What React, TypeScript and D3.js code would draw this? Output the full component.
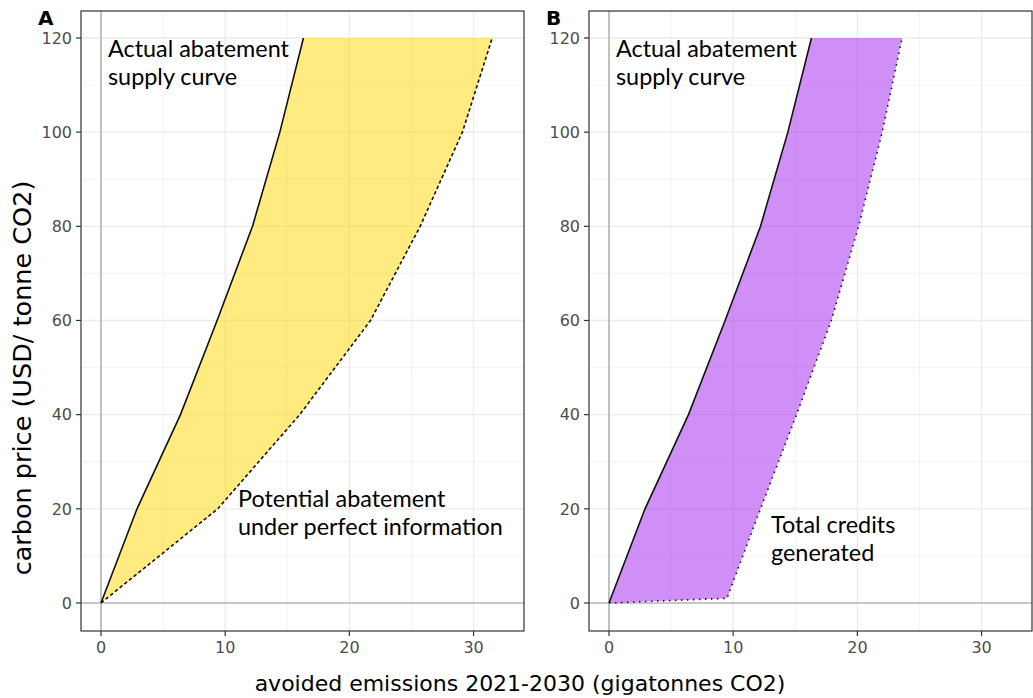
import React from "react";
import * as d3 from "d3";

// ---- data ----
const priceLevels = [0, 20, 40, 60, 80, 100, 120];
const actualAbatement = [0, 2.9, 6.4, 9.35, 12.2, 14.4, 16.3];
const potentialAbatement = [0, 9.4, 16.0, 21.7, 25.7, 29.1, 31.5];
const creditPriceLevels = [0, 1, 20, 40, 60, 80, 100, 120];
const totalCredits = [0, 9.5, 12.2, 15.1, 17.9, 20.1, 22.0, 23.6];

const xTicks = [0, 10, 20, 30];
const xMinorTicks = [5, 15, 25];
const yTicks = [0, 20, 40, 60, 80, 100, 120];
const yMinorTicks = [10, 30, 50, 70, 90, 110];

const panelLabels = ["A", "B"];
const topLabel = ["Actual abatement", "supply curve"];
const potentialLabel = ["Potential abatement", "under perfect information"];
const creditsLabel = ["Total credits", "generated"];

const W = 1033;
const H = 698;
const PANEL_W = 443;
const TOP = 11;
const BOTTOM = 631;
const X_DOMAIN: [number, number] = [-1.61, 34.06];
const Y_DOMAIN: [number, number] = [-5.95, 125.73];

const tickFont = "'DejaVu Sans', sans-serif";
const noteFont = "Lato, 'Open Sans', sans-serif";

type PanelProps = {
  label: string;
  left: number;
  fill: string;
  outerX: number[];
  outerY: number[];
  dash: string;
  note: string[];
  noteX: number;
  noteY: number;
};

function Panel({ label, left, fill, outerX, outerY, dash, note, noteX, noteY }: PanelProps) {
  const x = d3.scaleLinear().domain(X_DOMAIN).range([left, left + PANEL_W]);
  const y = d3.scaleLinear().domain(Y_DOMAIN).range([BOTTOM, TOP]);

  const actualPts: [number, number][] = priceLevels.map((p, i) => [x(actualAbatement[i]), y(p)]);
  const outerPts: [number, number][] = outerY.map((p, i) => [x(outerX[i]), y(p)]);
  const line = d3.line();
  const polygon = line([...actualPts, ...outerPts.slice().reverse()]) + "Z";

  return (
    <g>
      <rect x={left} y={TOP} width={PANEL_W} height={BOTTOM - TOP} fill="#fff" />
      {xMinorTicks.map((t) => (
        <line key={"xm" + t} x1={x(t)} x2={x(t)} y1={TOP} y2={BOTTOM} stroke="#f0f0f0" strokeWidth={0.8} />
      ))}
      {yMinorTicks.map((t) => (
        <line key={"ym" + t} x1={left} x2={left + PANEL_W} y1={y(t)} y2={y(t)} stroke="#f0f0f0" strokeWidth={0.8} />
      ))}
      {xTicks.map((t) => (
        <line key={"xg" + t} x1={x(t)} x2={x(t)} y1={TOP} y2={BOTTOM} stroke="#ebebeb" strokeWidth={1.3} />
      ))}
      {yTicks.map((t) => (
        <line key={"yg" + t} x1={left} x2={left + PANEL_W} y1={y(t)} y2={y(t)} stroke="#ebebeb" strokeWidth={1.3} />
      ))}
      {/* zero reference lines */}
      <line x1={x(0)} x2={x(0)} y1={TOP} y2={BOTTOM} stroke="#b8b8b8" strokeWidth={1.7} />
      <line x1={left} x2={left + PANEL_W} y1={y(0)} y2={y(0)} stroke="#b8b8b8" strokeWidth={1.7} />
      {/* ribbon */}
      <path d={polygon} fill={fill} fillOpacity={0.5} stroke="none" />
      <path d={line(outerPts) || ""} fill="none" stroke="#111" strokeWidth={1.6} strokeDasharray={dash} />
      <path d={line(actualPts) || ""} fill="none" stroke="#111" strokeWidth={1.6} />
      {/* border */}
      <rect x={left} y={TOP} width={PANEL_W} height={BOTTOM - TOP} fill="none" stroke="#333" strokeWidth={1.2} />
      {/* y axis */}
      {yTicks.map((t) => (
        <g key={"yt" + t}>
          <line x1={left - 5} x2={left} y1={y(t)} y2={y(t)} stroke="#333" strokeWidth={1.2} />
          <text x={left - 9} y={y(t)} dy="0.36em" textAnchor="end" fontFamily={tickFont} fontSize={16} fill="#4d4d4d">
            {t}
          </text>
        </g>
      ))}
      {/* x axis */}
      {xTicks.map((t) => (
        <g key={"xt" + t}>
          <line x1={x(t)} x2={x(t)} y1={BOTTOM} y2={BOTTOM + 5} stroke="#333" strokeWidth={1.2} />
          <text x={x(t)} y={BOTTOM + 22} textAnchor="middle" fontFamily={tickFont} fontSize={16} fill="#4d4d4d">
            {t}
          </text>
        </g>
      ))}
      {/* panel tag */}
      <text x={left - 43} y={25} fontFamily={tickFont} fontWeight="bold" fontSize={20} fill="#000">
        {label}
      </text>
      {/* annotations */}
      {topLabel.map((s, i) => (
        <text key={"tl" + i} x={x(0) + 7} y={57 + i * 28} fontFamily={noteFont} fontSize={23.4} fill="#000">
          {s}
        </text>
      ))}
      {note.map((s, i) => (
        <text key={"nt" + i} x={noteX} y={noteY + i * 28} fontFamily={noteFont} fontSize={23.4} fill="#000">
          {s}
        </text>
      ))}
    </g>
  );
}

export default function App() {
  return (
    <svg
      width={W}
      height={H}
      viewBox={`0 0 ${W} ${H}`}
      style={{ position: "absolute", left: 0, top: 0, background: "#fff" }}
    >
      <rect x={0} y={0} width={W} height={H} fill="#fff" />
      <Panel
        label={panelLabels[0]}
        left={81}
        fill="#FFD700"
        outerX={potentialAbatement}
        outerY={priceLevels}
        dash="3.5,2.5"
        note={potentialLabel}
        noteX={238}
        noteY={507}
      />
      <Panel
        label={panelLabels[1]}
        left={589}
        fill="#A020F0"
        outerX={totalCredits}
        outerY={creditPriceLevels}
        dash="1.5,4.5"
        note={creditsLabel}
        noteX={771}
        noteY={533}
      />
      <text
        transform={`translate(31,378) rotate(-90)`}
        textAnchor="middle"
        fontFamily={tickFont}
        fontSize={25.5}
        fill="#000"
      >
        carbon price (USD/ tonne CO2)
      </text>
      <text x={520} y={691} textAnchor="middle" fontFamily={tickFont} fontSize={22} fill="#000">
        avoided emissions 2021-2030 (gigatonnes CO2)
      </text>
    </svg>
  );
}
